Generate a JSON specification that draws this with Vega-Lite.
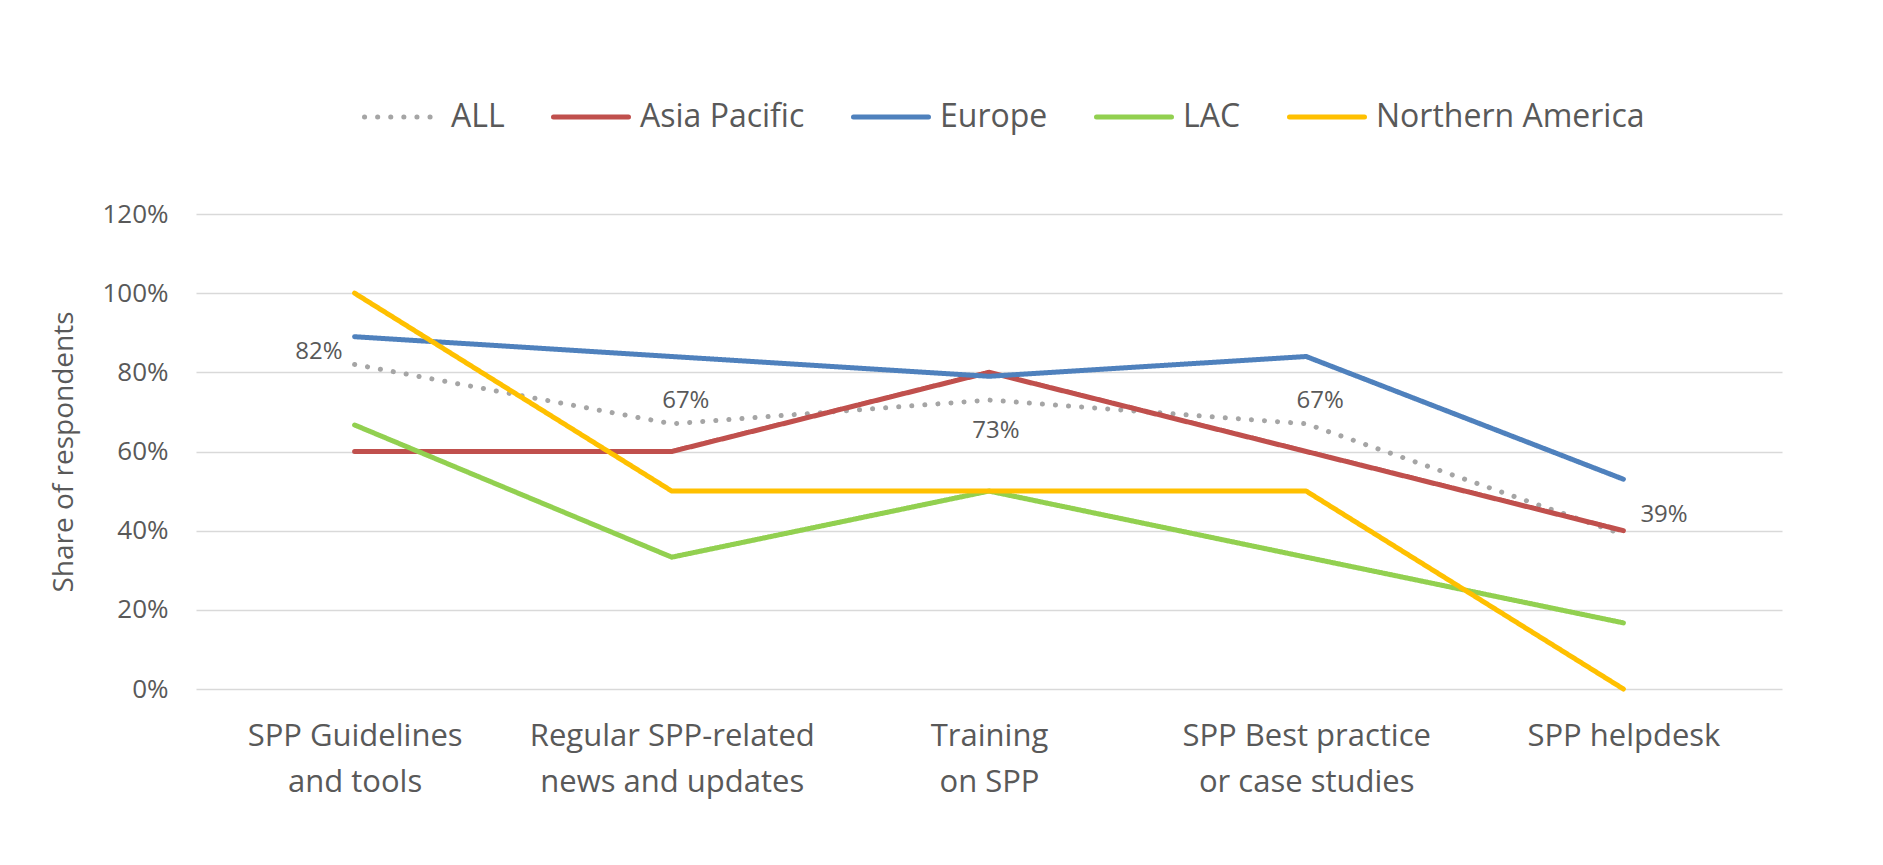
{
  "$schema": "https://vega.github.io/schema/vega-lite/v6.json",
  "width": 1586,
  "height": 475,
  "autosize": {"type": "none"},
  "padding": {"left": 196, "top": 214, "right": 101, "bottom": 176},
  "background": "white",
  "config": {
    "font": "Open Sans",
    "view": {"stroke": null},
    "axis": {"labelColor": "#595959", "titleColor": "#595959", "labelFont": "Open Sans", "titleFont": "Open Sans"},
    "legend": {"labelFont": "Open Sans"}
  },
  "data": {
    "values": [
      {"category": "SPP Guidelines|and tools", "series": "ALL", "value": 0.82},
      {"category": "Regular SPP-related|news and updates", "series": "ALL", "value": 0.67},
      {"category": "Training|on SPP", "series": "ALL", "value": 0.73},
      {"category": "SPP Best practice|or case studies", "series": "ALL", "value": 0.67},
      {"category": "SPP helpdesk", "series": "ALL", "value": 0.39},
      {"category": "SPP Guidelines|and tools", "series": "Asia Pacific", "value": 0.60},
      {"category": "Regular SPP-related|news and updates", "series": "Asia Pacific", "value": 0.60},
      {"category": "Training|on SPP", "series": "Asia Pacific", "value": 0.80},
      {"category": "SPP Best practice|or case studies", "series": "Asia Pacific", "value": 0.60},
      {"category": "SPP helpdesk", "series": "Asia Pacific", "value": 0.40},
      {"category": "SPP Guidelines|and tools", "series": "Europe", "value": 0.89},
      {"category": "Regular SPP-related|news and updates", "series": "Europe", "value": 0.84},
      {"category": "Training|on SPP", "series": "Europe", "value": 0.79},
      {"category": "SPP Best practice|or case studies", "series": "Europe", "value": 0.84},
      {"category": "SPP helpdesk", "series": "Europe", "value": 0.53},
      {"category": "SPP Guidelines|and tools", "series": "LAC", "value": 0.667},
      {"category": "Regular SPP-related|news and updates", "series": "LAC", "value": 0.333},
      {"category": "Training|on SPP", "series": "LAC", "value": 0.50},
      {"category": "SPP Best practice|or case studies", "series": "LAC", "value": 0.333},
      {"category": "SPP helpdesk", "series": "LAC", "value": 0.167},
      {"category": "SPP Guidelines|and tools", "series": "Northern America", "value": 1.0},
      {"category": "Regular SPP-related|news and updates", "series": "Northern America", "value": 0.50},
      {"category": "Training|on SPP", "series": "Northern America", "value": 0.50},
      {"category": "SPP Best practice|or case studies", "series": "Northern America", "value": 0.50},
      {"category": "SPP helpdesk", "series": "Northern America", "value": 0.0}
    ]
  },
  "encoding": {
    "x": {
      "field": "category", "type": "ordinal", "sort": null,
      "scale": {"type": "point", "padding": 0.5},
      "axis": {"title": null, "domain": false, "ticks": false, "grid": false, "labelAngle": 0,
        "labelFontSize": 31, "labelPadding": 32, "labelLineHeight": 46, "labelBaseline": "top", "labelLimit": 0,
        "labelExpr": "split(datum.value, '|')"}
    },
    "y": {
      "field": "value", "type": "quantitative",
      "scale": {"domain": [0, 1.2], "nice": false},
      "axis": {"title": "Share of respondents", "titleFontSize": 28, "titleFontWeight": "normal", "titlePadding": 23,
        "format": ".0%", "values": [0, 0.2, 0.4, 0.6, 0.8, 1.0, 1.2],
        "domain": false, "ticks": false, "labelFontSize": 26, "labelPadding": 28,
        "gridColor": "#D9D9D9", "gridWidth": 1.5}
    }
  },
  "layer": [
    {
      "mark": {"type": "line", "strokeWidth": 5, "strokeCap": "round", "strokeJoin": "round"},
      "encoding": {
        "color": {"field": "series", "type": "nominal",
          "scale": {"domain": ["ALL", "Asia Pacific", "Europe", "LAC", "Northern America"],
                    "range": ["#A5A5A5", "#C0504D", "#4F81BD", "#92D050", "#FFC000"]},
          "legend": {"title": null, "orient": "none", "direction": "horizontal", "legendX": 166, "legendY": -137,
            "symbolType": "stroke", "symbolSize": 5625, "symbolStrokeWidth": 5, "labelFontSize": 32, "labelLimit": 0,
            "labelColor": "#595959", "labelOffset": 9, "columnPadding": 38, "padding": 0,
            "encode": {"symbols": {"update": {"strokeCap": {"value": "round"}}}}}},
        "strokeDash": {"field": "series", "type": "nominal",
          "scale": {"domain": ["ALL", "Asia Pacific", "Europe", "LAC", "Northern America"],
                    "range": [[0.1, 13], [1, 0], [1, 0], [1, 0], [1, 0]]},
          "legend": null},
        "order": {"field": "series"}
      }
    },
    {
      "transform": [{"filter": "datum.series == 'ALL' && datum.category == 'SPP Guidelines|and tools'"}],
      "mark": {"type": "text", "align": "right", "baseline": "middle", "dx": -12, "dy": -12, "fontSize": 24, "color": "#595959"},
      "encoding": {"text": {"field": "value", "format": ".0%"}}
    },
    {
      "transform": [{"filter": "datum.series == 'ALL' && (datum.category == 'Regular SPP-related|news and updates' || datum.category == 'SPP Best practice|or case studies')"}],
      "mark": {"type": "text", "align": "center", "baseline": "middle", "dx": 14, "dy": -23, "fontSize": 24, "color": "#595959"},
      "encoding": {"text": {"field": "value", "format": ".0%"}}
    },
    {
      "transform": [{"filter": "datum.series == 'ALL' && datum.category == 'Training|on SPP'"}],
      "mark": {"type": "text", "align": "center", "baseline": "middle", "dx": 7, "dy": 31, "fontSize": 24, "color": "#595959"},
      "encoding": {"text": {"field": "value", "format": ".0%"}}
    },
    {
      "transform": [{"filter": "datum.series == 'ALL' && datum.category == 'SPP helpdesk'"}],
      "mark": {"type": "text", "align": "left", "baseline": "middle", "dx": 17, "dy": -20, "fontSize": 24, "color": "#595959"},
      "encoding": {"text": {"field": "value", "format": ".0%"}}
    }
  ]
}
